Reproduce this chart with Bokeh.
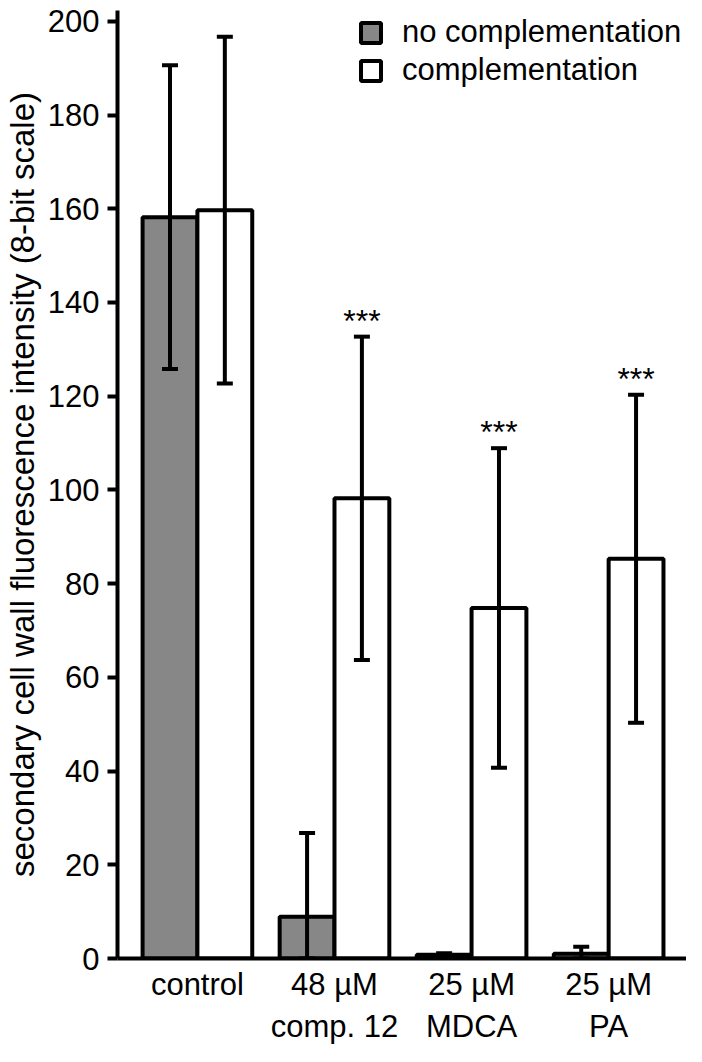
import numpy as np
from bokeh.plotting import figure
from bokeh.models import (ColumnDataSource, Range1d, FixedTicker,
                          Whisker, TeeHead, Legend, LegendItem)
from bokeh.core.properties import value
from bokeh.embed import file_html
from bokeh.resources import INLINE

# ---------------- data ----------------
categories = ["control", "48 µM\ncomp. 12", "25 µM\nMDCA", "25 µM\nPA"]
series_names = ["no complementation", "complementation"]
no_comp_mean = [158.2, 8.9, 0.8, 1.0]
no_comp_sd = [32.4, 17.9, 0.3, 1.5]
comp_mean = [159.7, 98.2, 74.8, 85.3]
comp_sd = [37.0, 34.5, 34.1, 35.0]
significance = ["", "***", "***", "***"]
y_ticks = [0, 20, 40, 60, 80, 100, 120, 140, 160, 180, 200]
y_label = "secondary cell wall fluorescence intensity (8-bit scale)"

FONT = "Liberation Sans"
GRAY = "#878787"

n = len(categories)
xc = np.arange(1, n + 1, dtype=float)
dodge = 0.2
bar_w = 0.4
x_nc = xc - dodge
x_c = xc + dodge

nc_mean = np.array(no_comp_mean)
nc_sd = np.array(no_comp_sd)
c_mean = np.array(comp_mean)
c_sd = np.array(comp_sd)

p = figure(width=686, height=1046,
           x_range=Range1d(0.417, 4.568), y_range=Range1d(0, 202.3),
           output_backend="svg", toolbar_location=None,
           min_border_left=109, min_border_right=0,
           min_border_top=10, min_border_bottom=88)

p.outline_line_color = None
p.xgrid.visible = False
p.ygrid.visible = False
p.background_fill_color = "white"
p.border_fill_color = "white"

src_nc = ColumnDataSource(dict(x=x_nc, top=nc_mean,
                               upper=nc_mean + nc_sd,
                               lower=np.maximum(nc_mean - nc_sd, 0)))
src_c = ColumnDataSource(dict(x=x_c, top=c_mean,
                              upper=c_mean + c_sd,
                              lower=np.maximum(c_mean - c_sd, 0)))

r_nc = p.vbar(x="x", top="top", bottom=0, width=bar_w, source=src_nc,
              fill_color=GRAY, line_color="black", line_width=4)
r_c = p.vbar(x="x", top="top", bottom=0, width=bar_w, source=src_c,
             fill_color="white", line_color="black", line_width=4)

for src in (src_nc, src_c):
    w = Whisker(base="x", upper="upper", lower="lower", source=src,
                line_color="black", line_width=4, level="annotation",
                upper_head=TeeHead(size=16, line_width=4, line_color="black"),
                lower_head=TeeHead(size=16, line_width=4, line_color="black"))
    p.add_layout(w)

# significance stars
mask = np.array([s != "" for s in significance])
star_src = ColumnDataSource(dict(x=x_c[mask], y=(c_mean + c_sd)[mask],
                                 t=[s for s in significance if s]))
p.text(x="x", y="y", text="t", source=star_src,
       text_font=value(FONT), text_font_size="32px", text_color="black",
       text_align="center", text_baseline="alphabetic", y_offset=-16)

# y axis
ya = p.yaxis[0]
ya.ticker = FixedTicker(ticks=y_ticks)
ya.axis_line_width = 4
ya.major_tick_line_width = 4
ya.major_tick_out = 10
ya.major_tick_in = 0
ya.minor_tick_out = 0
ya.minor_tick_in = 0
ya.major_label_standoff = 8
ya.major_label_text_font = FONT
ya.major_label_text_font_size = "31px"
ya.major_label_text_color = "black"
ya.axis_label = y_label
ya.axis_label_text_font = FONT
ya.axis_label_text_font_size = "33px"
ya.axis_label_text_font_style = "normal"
ya.axis_label_text_color = "black"
ya.axis_label_standoff = 4

# x axis: two-line category labels
xa = p.xaxis[0]
xa.ticker = FixedTicker(ticks=list(xc))
xa.major_label_overrides = {float(v): t for v, t in zip(xc, categories)}
xa.axis_line_width = 4
xa.major_tick_out = 0
xa.major_tick_in = 0
xa.minor_tick_out = 0
xa.minor_tick_in = 0
xa.major_label_standoff = 8
xa.major_label_text_font = FONT
xa.major_label_text_font_size = "31px"
xa.major_label_text_color = "black"
xa.major_label_text_line_height = 1.2

legend = Legend(items=[LegendItem(label=series_names[0], renderers=[r_nc]),
                       LegendItem(label=series_names[1], renderers=[r_c])],
                location=(241, 870), border_line_color=None,
                background_fill_alpha=0,
                label_text_font=FONT, label_text_font_size="31px",
                label_text_color="black",
                glyph_width=25, glyph_height=25, label_standoff=19,
                spacing=2, padding=0, margin=0)
p.add_layout(legend)

open("out.html", "w").write(file_html(p, INLINE))
